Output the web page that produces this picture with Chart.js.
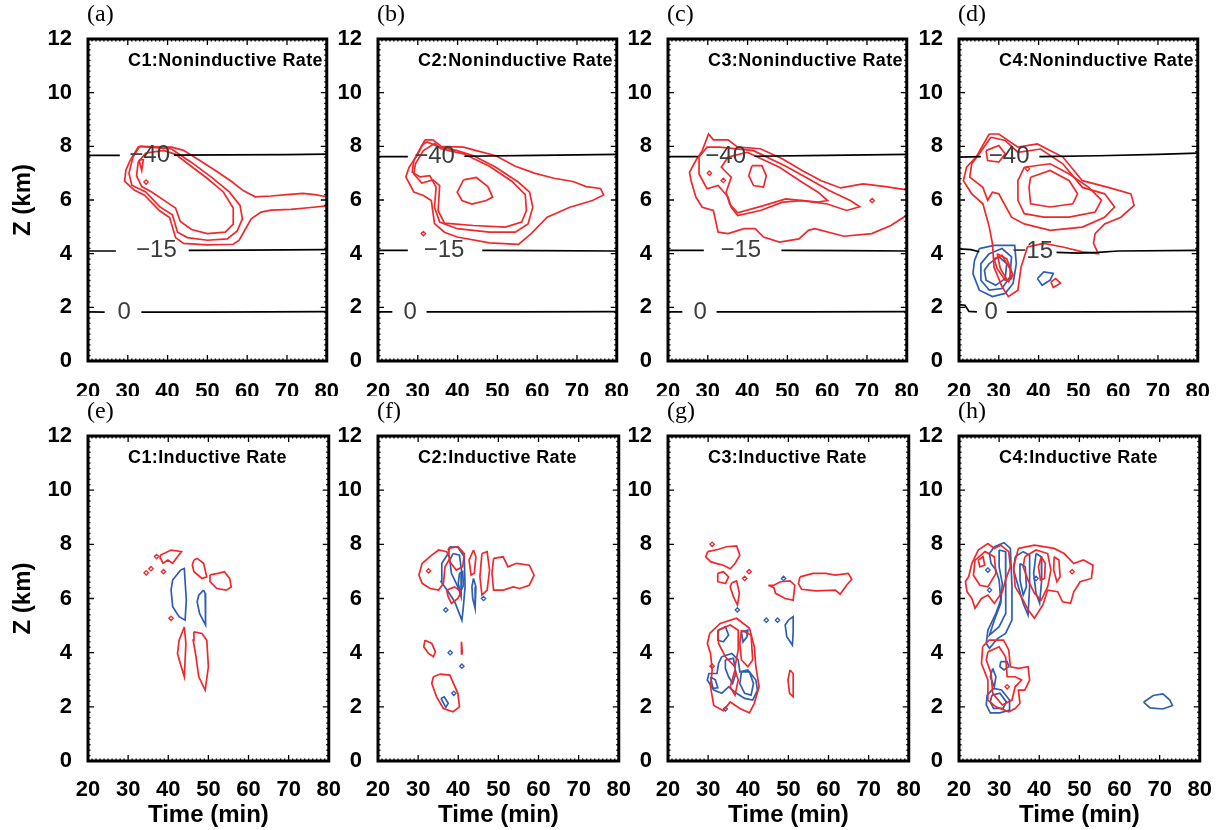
<!DOCTYPE html>
<html>
<head>
<meta charset="utf-8">
<script src="https://cdn.jsdelivr.net/npm/chart.js@4.4.1/dist/chart.umd.min.js"></script>
<style>
  body { margin: 0; background: #fff; width: 1228px; height: 830px; position: relative; overflow: hidden; }
  canvas { position: absolute; }
</style>
</head>
<body>
<script>
// ---- axes ----
const timeTicks = [20, 30, 40, 50, 60, 70, 80];
const zTicks = [0, 2, 4, 6, 8, 10, 12];
const panelLetters = ['(a)', '(b)', '(c)', '(d)', '(e)', '(f)', '(g)', '(h)'];
const panelTitles = [
  'C1:Noninductive Rate', 'C2:Noninductive Rate', 'C3:Noninductive Rate', 'C4:Noninductive Rate',
  'C1:Inductive Rate', 'C2:Inductive Rate', 'C3:Inductive Rate', 'C4:Inductive Rate'
];

// ---- isotherms (-40, -15, 0 C) : segments [time, z] and their labels ----
const isoA = [
  [[20, 7.66], [28, 7.66]], [[41.6, 7.67], [55, 7.68], [70, 7.69], [80, 7.71]],
  [[20, 4.1], [27, 4.1]], [[45.3, 4.12], [60, 4.13], [80, 4.15]],
  [[20, 1.83], [24.2, 1.82]], [[33.4, 1.82], [50, 1.82], [65, 1.83], [80, 1.84]]
];
const isoLabA = [[35.5, 7.66, '−40'], [37.2, 4.12, '−15'], [29.1, 1.82, '0']];
const isoB = [
  [[20, 7.62], [27.5, 7.62]], [[41.7, 7.63], [60, 7.66], [80, 7.7]],
  [[20, 4.12], [27.5, 4.12]], [[46.2, 4.12], [60, 4.11], [80, 4.1]],
  [[20, 1.83], [23.6, 1.83]], [[32.2, 1.83], [55, 1.83], [80, 1.84]]
];
const isoLabB = [[34.2, 7.64, '−40'], [36.6, 4.12, '−15'], [28.1, 1.83, '0']];
const isoC = [
  [[20, 7.62], [27.5, 7.62]], [[41.7, 7.63], [60, 7.66], [80, 7.7]],
  [[20, 4.12], [29, 4.12]], [[48.5, 4.12], [65, 4.11], [80, 4.1]],
  [[20, 1.83], [23.6, 1.83]], [[32.2, 1.83], [55, 1.83], [80, 1.84]]
];
const isoLabC = [[34.5, 7.64, '−40'], [38.3, 4.12, '−15'], [28.1, 1.83, '0']];
const isoD = [
  [[20, 7.6], [25.5, 7.62]], [[40.2, 7.62], [55, 7.65], [70, 7.7], [80, 7.75]],
  [[20, 4.18], [23, 4.15], [25.1, 4.07]], [[44.5, 4.05], [50, 4.02], [55, 4.05], [60, 4.1], [80, 4.12]],
  [[20, 2.1], [21.5, 2.08], [22.5, 1.85], [24.5, 1.83]], [[32, 1.82], [55, 1.83], [80, 1.84]]
];
const isoLabD = [[32.6, 7.62, '−40'], [38.5, 4.07, '−15'], [28.1, 1.83, '0']];

// ---- (a) C1 noninductive ----
const redA = [
  [[33, 8.0], [41, 7.97], [44, 7.85], [48.3, 7.45], [52, 7.1], [56, 6.7], [59, 6.35], [62, 6.12], [66, 6.15], [70, 6.2], [74, 6.25], [77, 6.2], [80, 6.12]],
  [[80, 5.78], [76, 5.72], [71, 5.65], [66, 5.62], [63.5, 5.55], [61, 5.3], [59.5, 4.9], [58, 4.5], [56.5, 4.35], [50, 4.33], [44, 4.38], [42, 4.6], [40.5, 5.35], [38, 5.6], [34.2, 6.18], [31.6, 6.37], [29.2, 6.7], [29.5, 7.1], [30.5, 7.45], [32.6, 7.97], [33, 8.0]],
  [[33, 8], [41, 7.9], [46, 7.4], [51, 6.85], [55.5, 6.3], [58.2, 5.8], [58.8, 5.3], [57.5, 4.85], [55, 4.55], [50, 4.5], [45, 4.6], [42.5, 4.8], [41.2, 5.45], [38, 5.75], [34.5, 6.3], [31, 6.55], [30.3, 7.0], [31.3, 7.6], [33, 8]],
  [[34.5, 7.75], [39, 7.85], [42, 7.7], [46, 7.25], [50, 6.8], [54, 6.3], [56.5, 5.7], [56.5, 5.1], [54.5, 4.8], [50, 4.75], [46, 4.9], [43.2, 5.2], [42, 5.7], [39.5, 5.95], [36, 6.3], [33.5, 6.5], [32.2, 6.9], [32.6, 7.4], [34.5, 7.75]],
  [[32.8, 7.5], [33.9, 7.5], [33.5, 7.1], [32.8, 7.5]]
];
const redMarksA = [[34.6, 6.67]];

// ---- (b) C2 noninductive ----
const redB = [
  [[31.8, 8.24], [33.8, 8.24], [35.9, 8.0], [41.5, 7.97], [44.7, 7.84], [49.6, 7.65], [54.5, 7.26], [59.3, 7.0], [64.2, 6.81], [69, 6.69], [72.3, 6.5], [75.9, 6.43], [76.7, 6.19], [73.9, 5.98], [68.2, 5.73], [62.5, 5.36], [58.5, 4.75], [55.3, 4.35], [48, 4.4], [39.9, 4.62], [36.7, 4.8], [34.2, 5.12], [33.4, 5.98], [31.4, 6.17], [29, 6.3], [27, 6.86], [27.8, 7.22], [29.8, 7.66], [31.8, 8.24]],
  [[32.2, 8.17], [35.5, 7.97], [39.9, 7.84], [44, 7.65], [49.6, 7.22], [55.3, 6.66], [58.1, 6.29], [58.9, 5.73], [57.7, 5.11], [54.5, 4.8], [48, 4.8], [39.9, 4.93], [35.5, 5.18], [34.2, 5.73], [34.6, 6.48], [33, 6.91], [30.6, 6.86], [28.6, 7.03], [29, 7.47], [31, 8.03], [32.2, 8.17]],
  [[35.9, 7.9], [41.5, 7.72], [48, 7.26], [53.7, 6.69], [57, 6.2], [57.3, 5.61], [56.1, 5.18], [52, 4.99], [44, 5.05], [36.7, 5.14], [35.1, 5.61], [35.5, 6.54], [33.8, 6.75], [31, 6.63], [29, 6.97], [29.4, 7.35], [31.4, 7.84], [34.2, 8.1], [35.9, 7.9]],
  [[41.5, 6.75], [44.7, 6.84], [47.6, 6.5], [48.8, 6.11], [47.2, 5.98], [43.6, 5.85], [41.1, 5.98], [39.9, 6.29], [41.5, 6.75]]
];
const redMarksB = [[31.4, 4.75]];

// ---- (c) C3 noninductive ----
const redC = [
  [[80, 5.43], [76, 5.05], [71.2, 4.75], [64.2, 4.65], [56.9, 4.93], [55.3, 4.87], [52.9, 4.55], [48, 4.43], [44, 4.62], [41.9, 4.93], [39.1, 4.93], [35.1, 4.75], [32.6, 4.8], [31.4, 5.61], [28.6, 5.73], [27, 6.11], [25.8, 6.72], [25.4, 7.03], [27, 7.47], [28.6, 7.84], [30.2, 8.46], [31.4, 8.24], [35.1, 8.24], [37.5, 7.97], [43.2, 7.91], [48.8, 7.53], [53.7, 7.1], [58.5, 6.72], [63.4, 6.45], [69, 6.6], [74.7, 6.5], [80, 6.38]],
  [[33, 7.97], [41.5, 7.84], [49.6, 7.26], [55.3, 6.79], [60.5, 6.35], [65.8, 5.98], [68.2, 5.75], [64.9, 5.61], [60, 5.85], [53.7, 5.98], [48.8, 5.92], [43.2, 5.61], [37.5, 5.42], [35.9, 5.73], [35.1, 6.11], [32.6, 6.54], [29.8, 6.42], [27.8, 6.97], [27.8, 7.6], [29.8, 7.97], [33, 7.97]],
  [[39.9, 7.78], [48, 7.22], [53.7, 6.66], [57.7, 6.29], [60.1, 5.98], [57.7, 5.92], [49.6, 6.04], [44, 5.79], [37.5, 5.52], [35.5, 5.85], [34.6, 6.29], [35.9, 6.85], [33.4, 7.22], [35.1, 7.6], [39.9, 7.78]],
  [[41.1, 7.28], [43.6, 7.28], [44.7, 6.91], [44, 6.48], [41.5, 6.54], [40.3, 6.91], [41.1, 7.28]]
];
const redMarksC = [[30.4, 7.0], [33.9, 6.73], [71.3, 5.98]];

// ---- (d) C4 noninductive ----
const redD = [
  [[27.6, 8.46], [30, 8.46], [34.8, 7.97], [39.7, 8.09], [46.1, 7.6], [51, 6.72], [57.5, 6.47], [63.2, 6.23], [64, 5.8], [60.7, 5.36], [56.6, 5.11], [54.2, 4.75], [53.8, 4.38], [55, 4.0], [51, 4.07], [46.1, 4.25], [41.3, 4.38], [37.2, 4.25], [35.6, 3.5], [34.8, 2.64], [32.4, 2.4], [30.8, 2.77], [28.8, 3.5], [28.4, 4.38], [27.6, 5.0], [26, 5.86], [23.2, 6.23], [21.1, 6.72], [21.9, 7.22], [24.3, 7.6], [27.6, 8.46]],
  [[28, 8.34], [31.6, 8.22], [34.8, 7.78], [40.5, 7.9], [46.1, 7.35], [51, 6.47], [56.6, 6.23], [59.1, 5.74], [56.6, 5.36], [51, 4.99], [42.9, 4.87], [36.4, 5.11], [33.2, 5.36], [30, 6.23], [28.4, 6.29], [27.2, 5.99], [26, 6.47], [22.7, 6.85], [23.2, 7.35], [25.1, 7.72], [28, 8.34]],
  [[36.4, 7.22], [42.9, 7.35], [47.7, 6.97], [52.6, 6.47], [55.8, 5.99], [54.2, 5.55], [47.7, 5.36], [41.3, 5.36], [36.4, 5.49], [34.8, 5.99], [34.8, 6.72], [36.4, 7.22]],
  [[38, 6.85], [42.9, 7.1], [47.7, 6.72], [49.8, 6.23], [48.6, 5.86], [42.9, 5.74], [38, 5.86], [37.6, 6.47], [38, 6.85]],
  [[26.8, 7.84], [30, 8.03], [31.6, 7.72], [30, 7.41], [27.2, 7.47], [26.8, 7.84]],
  [[29.6, 4.0], [32, 3.81], [33.6, 3.19], [32.4, 2.95], [30.4, 3.44], [29.6, 4.0]],
  [[28.8, 3.81], [30.8, 3.94], [32.8, 3.44], [33.2, 3.07], [31.6, 3.01], [29.6, 3.44], [28.8, 3.81]],
  [[43.1, 2.95], [44.3, 3.07], [45.5, 2.9], [43.7, 2.74], [43.1, 2.95]]
];
const redMarksD = [[37.2, 7.16]];
const blueD = [
  [[25.1, 4.19], [28.8, 4.31], [34, 4.31], [34.4, 3.63], [33.6, 2.89], [31.6, 2.52], [28.4, 2.4], [25.1, 2.64], [23.5, 3.26], [23.9, 3.75], [25.1, 4.19]],
  [[27.6, 4.0], [30.8, 4.19], [33.2, 3.88], [32.8, 3.13], [30.8, 2.7], [27.6, 2.64], [25.5, 3.01], [25.5, 3.63], [27.6, 4.0]],
  [[27.6, 3.63], [30, 3.88], [32, 3.63], [31.6, 3.07], [29.2, 2.82], [26.8, 3.01], [26.4, 3.38], [27.6, 3.63]],
  [[39.7, 3.07], [41.3, 3.32], [43.7, 3.26], [42.9, 3.01], [40.9, 2.82], [39.7, 3.07]]
];

// ---- (e) C1 inductive ----
const redE = [
  [[38, 7.6], [40.7, 7.79], [43.3, 7.73], [42.3, 7.54], [41.1, 7.3], [39.9, 7.42], [38.7, 7.3], [38.1, 7.48], [38, 7.6]],
  [[46.4, 7.42], [47.2, 7.48], [48.8, 7.3], [49.6, 6.8], [48.4, 6.74], [46.4, 6.99], [46, 7.24], [46.4, 7.42]],
  [[50.4, 6.87], [52.4, 6.93], [54, 6.99], [55.3, 6.74], [55.7, 6.43], [54.5, 6.31], [52.1, 6.37], [50.4, 6.62], [50.4, 6.87]],
  [[44, 4.95], [44.4, 4.34], [44, 3.11], [43, 3.6], [42.3, 3.97], [42.7, 4.46], [44, 4.95]],
  [[46.4, 4.77], [48.4, 4.71], [49.6, 4.46], [50, 3.48], [49.2, 2.62], [47.6, 3.11], [46.8, 3.97], [46.2, 4.46], [46.4, 4.77]]
];
const redMarksE = [[34.5, 6.95], [35.7, 7.1], [37.1, 7.55], [38.8, 6.99], [40.7, 5.27]];
const blueE = [
  [[43.1, 7.05], [44, 7.11], [44.5, 5.94], [44.2, 5.2], [42.7, 5.33], [41.1, 5.7], [40.7, 6.31], [41.1, 6.68], [43.1, 7.05]],
  [[48.8, 6.31], [49.2, 6.19], [49.4, 5.45], [49.2, 5.02], [47.8, 5.45], [47.2, 5.88], [47.6, 6.12], [48.8, 6.31]]
];

// ---- (f) C2 inductive ----
const redF = [
  [[31, 7.3], [33.4, 7.6], [35.1, 7.79], [37.1, 7.73], [37.9, 7.48], [36.7, 7.17], [36.3, 6.56], [35.1, 6.31], [33, 6.37], [31, 6.56], [30.2, 6.86], [31, 7.3]],
  [[37.5, 7.85], [39.9, 7.91], [41.5, 7.66], [41.1, 7.17], [39.5, 7.05], [37.9, 7.36], [37.5, 7.85]],
  [[37.1, 6.31], [39.1, 6.43], [40.7, 6.25], [39.9, 6.0], [38.3, 5.82], [37.5, 6.06], [37.1, 6.31]],
  [[43.8, 7.79], [44.4, 7.54], [44, 6.93], [43.2, 6.86], [42.7, 7.42], [43.8, 7.79]],
  [[45.9, 7.66], [47.2, 7.73], [47.8, 7.05], [47.2, 6.31], [45.9, 6.13], [45.4, 6.8], [45.9, 7.66]],
  [[48.8, 7.48], [51.2, 7.54], [52.4, 7.17], [54.5, 7.3], [57.7, 7.23], [58.9, 6.86], [57.7, 6.49], [55.3, 6.37], [53.7, 6.43], [51.2, 6.31], [48.8, 6.31], [48.4, 6.93], [48.8, 7.48]],
  [[31.7, 4.46], [33.4, 4.34], [34.3, 4.03], [33.8, 3.85], [32.6, 3.97], [31.4, 4.22], [31.7, 4.46]],
  [[33.8, 3.11], [35.5, 3.21], [37.9, 3.17], [39.9, 2.5], [40.3, 2.0], [38.7, 1.82], [36.3, 1.94], [34.6, 2.37], [33.4, 2.86], [33.8, 3.11]],
  [[40.8, 4.4], [41.0, 4.0], [40.9, 3.95], [40.8, 4.4]]
];
const redMarksF = [[32.6, 7.02]];
const blueF = [
  [[37.9, 7.91], [39.9, 7.89], [41.5, 7.54], [41.7, 6.43], [41.2, 5.58], [40.9, 5.2], [39.1, 5.88], [37.5, 6.25], [35.7, 6.62], [35.9, 7.3], [37.5, 7.66], [37.9, 7.91]],
  [[38.7, 7.66], [40.3, 7.6], [40.9, 6.93], [40.7, 6.07], [39.9, 6.43], [38.3, 6.93], [37.9, 7.42], [38.7, 7.66]],
  [[40.3, 6.93], [41.1, 6.99], [41.3, 6.49], [40.5, 6.25], [40, 6.55], [40.3, 6.93]],
  [[43.8, 6.74], [44.4, 6.43], [44.2, 5.64], [43.6, 6.0], [43.4, 6.43], [43.8, 6.74]],
  [[35.7, 2.31], [36.5, 2.37], [37.5, 2.13], [36.9, 1.98], [35.7, 2.31]]
];
const blueMarksF = [[36.9, 5.58], [40.9, 3.5], [38.9, 2.5], [38.0, 4.0], [46.3, 6.0]];

// ---- (g) C3 inductive ----
const redG = [
  [[29.9, 7.73], [32.6, 7.82], [34.6, 7.91], [37.1, 7.94], [37.9, 7.6], [36.7, 7.29], [35.5, 7.1], [33.8, 7.23], [32.2, 7.29], [30.6, 7.36], [29.4, 7.54], [29.9, 7.73]],
  [[32.4, 6.93], [33.8, 6.99], [35.1, 6.8], [34.3, 6.55], [32.4, 6.62], [32.4, 6.93]],
  [[35.9, 6.58], [37.1, 6.65], [37.8, 6.19], [37.3, 5.76], [36.3, 6.07], [35.5, 6.43], [35.9, 6.58]],
  [[45, 6.49], [46.4, 6.49], [48, 6.62], [50.4, 6.65], [51.6, 6.49], [51.2, 5.94], [49.2, 6.0], [46.8, 6.19], [46.4, 6.4], [45, 6.49]],
  [[52.9, 6.8], [56.1, 6.93], [59.3, 6.93], [61.7, 6.86], [64.9, 6.93], [65.8, 6.71], [64.5, 6.49], [62.9, 6.16], [61.7, 6.31], [56.9, 6.28], [53.3, 6.34], [52.5, 6.55], [52.9, 6.8]],
  [[30.4, 4.71], [33, 5.08], [37.1, 5.27], [40.3, 4.9], [41.5, 4.22], [41.9, 3.48], [42.7, 2.74], [41.5, 2.13], [40.3, 1.78], [37.9, 1.94], [35.5, 2.18], [33.8, 1.86], [31.4, 2.05], [30.6, 2.74], [31, 3.36], [30.6, 3.97], [29.8, 4.34], [30.4, 4.71]],
  [[32.4, 4.83], [35.5, 5.02], [37.5, 4.83], [37.5, 4.1], [36.7, 3.48], [34.3, 3.85], [32.6, 4.34], [32.4, 4.83]],
  [[38.3, 4.83], [40.7, 4.65], [41.1, 3.73], [39.9, 3.48], [38.3, 3.73], [37.9, 4.34], [38.3, 4.83]],
  [[36.7, 3.36], [37.5, 2.99], [36.7, 2.43], [35.5, 2.74], [36.7, 3.36]],
  [[50.4, 3.36], [51.2, 3.23], [51.2, 2.37], [50.3, 2.5], [49.9, 2.99], [50.4, 3.36]]
];
const redMarksG = [[31, 8.0], [39.1, 6.74], [40.2, 6.99], [31, 3.5]];
const blueG = [
  [[32.6, 4.83], [34.3, 4.96], [35.1, 4.65], [33.8, 4.4], [32.4, 4.46], [32.6, 4.83]],
  [[38.3, 4.77], [39.9, 4.83], [39.7, 4.59], [38.7, 4.4], [38.3, 4.77]],
  [[33.4, 3.85], [35.9, 3.97], [37.5, 3.73], [37.9, 3.29], [39.9, 3.36], [41.9, 2.99], [42.3, 2.62], [41.1, 2.25], [39.1, 2.31], [37.1, 2.5], [35.1, 2.74], [33.4, 2.5], [31.4, 2.62], [29.8, 2.99], [30.2, 3.23], [32.2, 3.23], [32.6, 3.6], [33.4, 3.85]],
  [[34.3, 3.73], [36.3, 3.79], [36.9, 3.23], [36.1, 2.86], [35.1, 3.11], [34.3, 3.42], [34.3, 3.73]],
  [[38.3, 3.29], [40.3, 3.29], [41.3, 2.86], [40.7, 2.43], [39.1, 2.5], [37.9, 2.86], [38.3, 3.29]],
  [[30.6, 3.1], [31.8, 3.0], [32.4, 2.7], [31.2, 2.68], [30.6, 3.1]],
  [[50, 5.2], [51.2, 5.33], [51.2, 4.77], [51, 4.28], [49.6, 4.59], [49.2, 5.02], [50, 5.2]]
];
const blueMarksG = [[34.3, 1.92], [44.5, 5.2], [47.3, 5.2], [37.3, 5.58], [48.8, 6.74]];

// ---- (h) C4 inductive ----
const redH = [
  [[22.4, 6.8], [23.2, 7.29], [24.8, 7.79], [27.2, 8.03], [28.8, 7.85], [30.4, 7.97], [32.4, 7.73], [32.8, 7.17], [31.6, 6.68], [30.8, 6.25], [28.8, 5.82], [27.2, 6.13], [25.6, 6], [24, 5.64], [23.2, 6], [22, 6.25], [21.6, 6.62], [22.4, 6.8]],
  [[24, 7.42], [26.5, 7.73], [28.8, 7.54], [29.2, 6.93], [27.2, 6.43], [25.2, 6.49], [23.6, 6.86], [24, 7.42]],
  [[24.8, 7.42], [26, 7.54], [26.4, 7.23], [25.2, 7.17], [24.8, 7.42]],
  [[34.8, 7.85], [38.8, 7.97], [43.7, 7.85], [46.2, 7.66], [48.6, 7.29], [51, 7.42], [53.4, 7.23], [53, 6.74], [50.2, 6.62], [48.6, 6.25], [47.8, 5.82], [45.8, 5.88], [44.6, 6.25], [42.1, 6.31], [40.9, 5.76], [38.8, 5.27], [37.2, 5.58], [36, 5.94], [34, 6.43], [33.6, 7.17], [34.8, 7.85]],
  [[36.4, 7.54], [39.2, 7.79], [42.1, 7.66], [42.9, 7.05], [42.1, 6.43], [40.5, 5.94], [38.8, 6.19], [37.2, 6.68], [36, 7.17], [36.4, 7.54]],
  [[43.7, 7.54], [44.9, 7.42], [45.2, 6.8], [44.4, 6.62], [43.6, 7.05], [43.7, 7.54]],
  [[40.5, 7.54], [41.5, 7.29], [41.3, 6.74], [40.3, 6.68], [39.8, 7.17], [40.5, 7.54]],
  [[25.9, 4.22], [27.5, 4.46], [31.1, 4.46], [32.4, 4.1], [32.8, 3.48], [34.8, 3.42], [37.2, 3.48], [37.6, 2.99], [36.4, 2.62], [34.8, 2.62], [35.2, 2.13], [34, 1.94], [32.4, 1.82], [29.2, 2], [27.2, 2.25], [27.2, 2.99], [25.6, 3.6], [25.9, 4.22]],
  [[27.2, 4.03], [30, 4.22], [31.6, 3.85], [32, 3.11], [34, 3.11], [35.6, 2.99], [34, 2.74], [33.2, 2.25], [30.8, 2.07], [28.4, 2.5], [28, 3.23], [26.8, 3.73], [27.2, 4.03]]
];
const redMarksH = [[48.2, 6.99], [32, 2.74]];
const blueH = [
  [[28.8, 7.91], [31.2, 8.06], [32.8, 7.85], [33.2, 6.43], [33.2, 5.2], [31.6, 4.71], [29.6, 4.52], [27.6, 4.16], [26.8, 4.34], [27.2, 4.83], [29.2, 5.45], [30.4, 5.94], [30, 6.68], [29.2, 7.05], [28, 7.29], [27.6, 7.66], [28.8, 7.91]],
  [[30, 7.79], [31.6, 7.73], [31.7, 6.43], [31.6, 5.45], [30, 4.96], [27.6, 4.65], [28.8, 5.2], [30.4, 5.82], [30.8, 6.55], [30, 7.17], [30, 7.79]],
  [[34, 7.54], [36, 7.73], [37.6, 7.6], [37.6, 6.43], [37.2, 5.39], [36, 5.82], [34.8, 6.43], [33.6, 7.05], [34, 7.54]],
  [[35.2, 7.29], [36.5, 7.17], [36.8, 6.43], [36, 6.13], [35.2, 6.68], [35.2, 7.29]],
  [[39.2, 7.66], [40.5, 7.54], [40.6, 6.68], [40.1, 5.82], [39.2, 6.19], [38.6, 6.93], [39.2, 7.66]],
  [[30.4, 3.67], [32, 3.67], [32.4, 3.48], [31.2, 3.36], [30.2, 3.48], [30.4, 3.67]],
  [[28.4, 3.42], [29.2, 3.11], [28.8, 2.74], [27.8, 3.11], [28.4, 3.42]],
  [[27, 2.43], [28.6, 2.68], [30.6, 2.62], [32.6, 2.25], [32.6, 1.88], [30.2, 1.78], [27.8, 1.78], [26.8, 2.07], [27, 2.43]],
  [[28.2, 2.43], [30.2, 2.5], [31.8, 2.18], [31, 1.94], [28.6, 1.94], [27.8, 2.18], [28.2, 2.43]],
  [[66, 2.17], [68.4, 2.42], [70.8, 2.48], [72.5, 2.26], [73.2, 2.05], [70.8, 1.92], [67.6, 1.96], [66, 2.17]]
];
const blueMarksH = [[27.6, 6.31], [27.2, 7.05], [39.2, 6.74]];

// ---- panel assembly ----
const panels = [
  { red: redA, blue: [], redMarks: redMarksA, blueMarks: [], iso: isoA, isoLab: isoLabA },
  { red: redB, blue: [], redMarks: redMarksB, blueMarks: [], iso: isoB, isoLab: isoLabB },
  { red: redC, blue: [], redMarks: redMarksC, blueMarks: [], iso: isoC, isoLab: isoLabC },
  { red: redD, blue: blueD, redMarks: redMarksD, blueMarks: [], iso: isoD, isoLab: isoLabD },
  { red: redE, blue: blueE, redMarks: redMarksE, blueMarks: [], iso: [], isoLab: [] },
  { red: redF, blue: blueF, redMarks: redMarksF, blueMarks: blueMarksF, iso: [], isoLab: [] },
  { red: redG, blue: blueG, redMarks: redMarksG, blueMarks: blueMarksG, iso: [], isoLab: [] },
  { red: redH, blue: blueH, redMarks: redMarksH, blueMarks: blueMarksH, iso: [], isoLab: [] }
];

const RED = '#f0282c';
const BLUE = '#2d5eb4';
const SANS = '"Liberation Sans", Arial, sans-serif';

// layout in page pixels
const colLeft = [88, 378, 668, 959];
const plotW = 247;
const rows = [
  { canvasTop: 0, padTop: 39, plotH: 322, axisH: 35, tickPad: 10 },
  { canvasTop: 396, padTop: 40, plotH: 325, axisH: 69, tickPad: 8 }
];

const toXY = arr => arr.map(([x, y]) => ({ x, y }));

function lineSet(poly, color, width) {
  return {
    data: toXY(poly), borderColor: color, borderWidth: width,
    showLine: true, pointRadius: 0, fill: false, tension: 0
  };
}
function markSet(pts, color) {
  return {
    data: toXY(pts), showLine: false, pointStyle: 'rectRot', pointRadius: 2.2,
    borderColor: color, backgroundColor: 'rgba(0,0,0,0)', borderWidth: 1.3
  };
}

function makeDeco(i, p) {
  return {
    id: 'deco' + i,
    afterDatasetsDraw(chart) {
      const { ctx } = chart;
      const xs = chart.scales.x, ys = chart.scales.y;
      ctx.save();
      ctx.font = '24px ' + SANS;
      ctx.fillStyle = '#3c3c3c';
      ctx.textAlign = 'center';
      ctx.textBaseline = 'middle';
      p.isoLab.forEach(([t, z, s]) => ctx.fillText(s, xs.getPixelForValue(t), ys.getPixelForValue(z)));
      ctx.restore();
    },
    afterDraw(chart) {
      const { ctx, chartArea: a } = chart;
      const xs = chart.scales.x, ys = chart.scales.y;
      ctx.save();
      ctx.strokeStyle = '#000';
      // minor/major ticks, inward, on all four sides
      ctx.lineWidth = 1.3;
      ctx.beginPath();
      const xStep = (timeTicks[1] - timeTicks[0]) / 10;
      for (let k = 0; k <= (timeTicks[timeTicks.length - 1] - timeTicks[0]) / xStep; k++) {
        const v = timeTicks[0] + k * xStep;
        const len = k % 10 === 0 ? 6 : 2.5;
        const px = xs.getPixelForValue(v);
        ctx.moveTo(px, a.bottom); ctx.lineTo(px, a.bottom - len);
        ctx.moveTo(px, a.top); ctx.lineTo(px, a.top + len);
      }
      const zStep = (zTicks[1] - zTicks[0]) / 10;
      for (let k = 0; k <= (zTicks[zTicks.length - 1] - zTicks[0]) / zStep + 0.01; k++) {
        const v = zTicks[0] + k * zStep;
        const len = k % 10 === 0 ? 6 : 2.5;
        const py = ys.getPixelForValue(v);
        ctx.moveTo(a.left, py); ctx.lineTo(a.left + len, py);
        ctx.moveTo(a.right, py); ctx.lineTo(a.right - len, py);
      }
      ctx.stroke();
      // frame
      ctx.lineWidth = 3;
      ctx.strokeRect(a.left, a.top, a.right - a.left, a.bottom - a.top);
      // panel letter
      ctx.fillStyle = '#000';
      ctx.font = '24px "Liberation Serif", "Times New Roman", serif';
      ctx.textAlign = 'left';
      ctx.textBaseline = 'alphabetic';
      ctx.fillText(panelLetters[i], a.left - 1, a.top - 18);
      // inner title
      ctx.font = 'bold 18px ' + SANS;
      ctx.letterSpacing = '0.4px';
      ctx.textBaseline = 'middle';
      ctx.fillText(panelTitles[i], a.left + 40, a.top + 22);
      ctx.restore();
    }
  };
}

panels.forEach((p, i) => {
  const col = i % 4, row = Math.floor(i / 4);
  const r = rows[row];
  const canvas = document.createElement('canvas');
  const w = 88 + plotW + 14;
  const h = r.padTop + r.plotH + r.axisH;
  canvas.width = w; canvas.height = h;
  canvas.style.left = (colLeft[col] - 88) + 'px';
  canvas.style.top = r.canvasTop + 'px';
  canvas.style.width = w + 'px'; canvas.style.height = h + 'px';
  document.body.appendChild(canvas);

  const datasets = [];
  p.iso.forEach(seg => datasets.push(lineSet(seg, '#000', 1.7)));
  p.red.forEach(c => datasets.push(lineSet(c, RED, 1.7)));
  p.blue.forEach(c => datasets.push(lineSet(c, BLUE, 1.7)));
  if (p.redMarks.length) datasets.push(markSet(p.redMarks, RED));
  if (p.blueMarks.length) datasets.push(markSet(p.blueMarks, BLUE));

  new Chart(canvas, {
    type: 'scatter',
    data: { datasets },
    options: {
      responsive: false,
      animation: false,
      events: [],
      layout: { padding: { top: r.padTop, left: 0, right: 14, bottom: 0 } },
      plugins: { legend: { display: false }, tooltip: { enabled: false } },
      scales: {
        x: {
          type: 'linear', min: timeTicks[0], max: timeTicks[timeTicks.length - 1],
          afterBuildTicks: s => { s.ticks = timeTicks.map(v => ({ value: v })); },
          afterFit: s => { s.height = r.axisH; },
          grid: { display: false }, border: { display: false },
          ticks: { color: '#000', padding: r.tickPad, maxRotation: 0, autoSkip: false, font: { family: SANS, size: 22, weight: 'bold' } },
          title: { display: row === 1, text: 'Time (min)', color: '#000', padding: { top: 0, bottom: 0 }, font: { family: SANS, size: 24, weight: 'bold' } }
        },
        y: {
          type: 'linear', min: zTicks[0], max: zTicks[zTicks.length - 1],
          afterBuildTicks: s => { s.ticks = zTicks.map(v => ({ value: v })); },
          afterFit: s => { s.width = 88; },
          grid: { display: false }, border: { display: false },
          ticks: { color: '#000', padding: 8, autoSkip: false, font: { family: SANS, size: 22, weight: 'bold' } },
          title: { display: col === 0, text: 'Z (km)', color: '#000', padding: { top: 9, bottom: 0 }, font: { family: SANS, size: 24, weight: 'bold' } }
        }
      }
    },
    plugins: [makeDeco(i, p)]
  });
});
</script>
</body>
</html>
